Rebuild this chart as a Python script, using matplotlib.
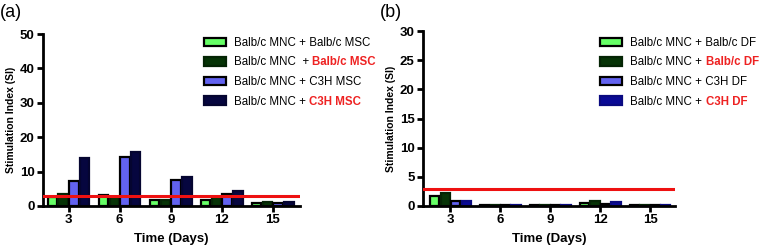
import numpy as np
import matplotlib.pyplot as plt

plt.rcParams['font.family'] = ['Liberation Sans', 'DejaVu Sans']

days = ["3", "6", "9", "12", "15"]

# panel (a): MSC co-cultures
msc_labels = ["Balb/c MNC + Balb/c MSC", "Balb/c MNC  + ", "Balb/c MNC + C3H MSC", "Balb/c MNC + "]
msc_red = [None, "Balb/c MSC", None, "C3H MSC"]
msc_vals = [
    [2.6, 3.2, 1.6, 1.8, 1.0],
    [3.6, 2.6, 1.7, 2.5, 1.1],
    [7.4, 14.2, 7.7, 3.4, 0.8],
    [14.0, 15.6, 8.3, 4.5, 1.2],
]

# panel (b): DF co-cultures
df_labels = ["Balb/c MNC + Balb/c DF", "Balb/c MNC + ", "Balb/c MNC + C3H DF", "Balb/c MNC + "]
df_red = [None, "Balb/c DF", None, "C3H DF"]
df_vals = [
    [1.7, 0.2, 0.2, 0.5, 0.2],
    [2.3, 0.2, 0.2, 0.8, 0.2],
    [0.8, 0.1, 0.2, 0.3, 0.2],
    [0.8, 0.2, 0.1, 0.7, 0.2],
]

threshold = 3

fills_a = ["#66ff66", "#063306", "#6262f0", "#06063f"]
edges_a = ["black", "#042404", "black", "#050530"]
fills_b = ["#66ff66", "#063306", "#6262f0", "#0a0a96"]
edges_b = ["black", "#042404", "black", "#0a0a80"]

legends = []


def panel(rect, vals, labels, reds, fills, edges, ymax, ystep, xlim, leg_xy, tag):
    ax = fig.add_axes(rect)
    x = np.arange(len(days))
    slot = 0.21
    bars = []
    for i, v in enumerate(vals):
        b = ax.bar(x + (i - 1.5) * slot, v, width=0.185, color=fills[i],
                   edgecolor=edges[i], linewidth=1.6, label=labels[i], zorder=2)
        bars.append(b)
    ax.axhline(threshold, color="#ee1111", lw=2.2, zorder=3)
    ax.set_xlim(*xlim)
    ax.set_ylim(0, ymax)
    ax.set_yticks(np.arange(0, ymax + 1, ystep))
    ax.set_xticks(x)
    ax.set_xticklabels(days)
    for s in ["top", "right"]:
        ax.spines[s].set_visible(False)
    for s in ["left", "bottom"]:
        ax.spines[s].set_linewidth(2)
    ax.tick_params(width=2, length=4, labelsize=9.5, pad=2)
    for t in ax.get_xticklabels() + ax.get_yticklabels():
        t.set_fontweight("bold")
    ax.set_xlabel("Time (Days)", fontsize=9.5, fontweight="bold", labelpad=5)
    ax.set_ylabel("Stimulation Index (SI)", fontsize=7.5, fontweight="bold", labelpad=3)

    leg = fig.legend(handles=bars, labels=labels, loc="upper left",
                     bbox_to_anchor=leg_xy, frameon=False, fontsize=8.3,
                     handlelength=1.9, handleheight=0.75, handletextpad=0.7,
                     labelspacing=0.66, borderpad=0, borderaxespad=0)
    legends.append((leg, reds))
    fig.text(rect[0] - 0.057, 0.985, tag, fontsize=13, va="top", ha="left")
    return ax


fig = plt.figure(figsize=(7.6, 2.47), dpi=100)
panel([0.0566, 0.166, 0.338, 0.696], msc_vals, msc_labels, msc_red, fills_a, edges_a,
      50, 10, (-0.5, 4.53), (0.268, 0.851), "(a)")
panel([0.5566, 0.166, 0.331, 0.708], df_vals, df_labels, df_red, fills_b, edges_b,
      30, 5, (-0.55, 4.49), (0.79, 0.851), "(b)")

# red part of the mixed-colour legend labels, placed on the same baseline after layout
fig.canvas.draw()
inv = fig.transFigure.inverted()
for leg, reds in legends:
    for txt, red in zip(leg.get_texts(), reds):
        if red:
            bb = txt.get_window_extent()
            base_y = txt.get_transform().transform(txt.get_position())[1]
            fx, fy = inv.transform((bb.x1, base_y))
            fig.text(fx, fy, red, color="#ee2222", fontsize=8.3, fontweight="bold",
                     va="baseline", ha="left")

fig.savefig("out.png", dpi=100)
